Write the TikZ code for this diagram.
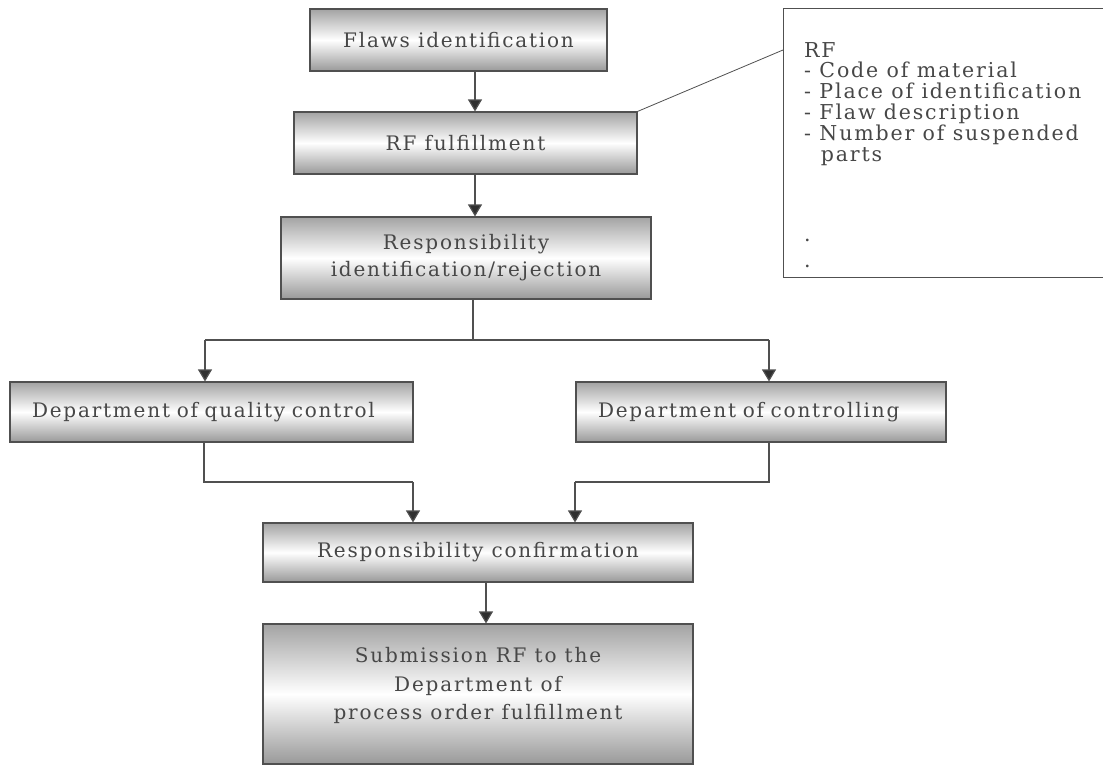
\documentclass[tikz,border=0pt]{standalone}
\usepackage{fontspec}
\setmainfont[LetterSpace=9]{DejaVu Serif}
\usetikzlibrary{arrows.meta,calc}
\definecolor{txt}{HTML}{474747}
\definecolor{ln}{HTML}{505050}
\definecolor{tip}{HTML}{303030}
\tikzset{
  box/.style={draw=ln, line width=1.1pt, shading=axis, top color=black!36, bottom color=black!40, middle color=white,
    inner sep=0pt, text=txt, font=\fontsize{20}{27}\selectfont, align=center},
  deptbox/.style={box, inner xsep=22pt, align=left},
  notebox/.style={draw=ln, line width=1.1pt, fill=white, inner sep=0pt},
  arr/.style={draw=ln, line width=1.2pt, -{Triangle[width=14pt,length=12pt,fill=tip]}},
  conn/.style={draw=ln, line width=1.2pt},
  thin/.style={draw=ln, line width=0.8pt}
}
\begin{document}
\begin{tikzpicture}[x=1pt,y=-1pt]
\useasboundingbox (0,0) rectangle (1103,767);
\fill[white] (0,0) rectangle (1103,767);
% note box (clipped at right)
\begin{scope}
\clip (0,0) rectangle (1103,767);
\node[notebox, minimum width=330, minimum height=269, anchor=north west] (note) at (783,8) {};
\end{scope}
\node[anchor=north west, text=txt, font=\fontsize{20.5}{20.8}\selectfont, align=left, inner sep=0pt] (notetext) at (804,42)
  {RF\\- Code of material\\- Place of identification\\- Flaw description\\- Number of suspended\\\ \ parts\\[60pt].\\[5pt].};

\node[box, minimum width=297, minimum height=62] (flaws) at (458.5,40) {Flaws identification};
\node[box, minimum width=343, minimum height=62] (rf) at (465.5,143) {RF fulfillment};
\node[box, minimum width=370, minimum height=82] (ri) at (466,258) {Responsibility\\identification/rejection};
\node[deptbox, minimum width=403, minimum height=60, text width=359] (qc) at (211.5,412) {Department of quality control};
\node[deptbox, minimum width=370, minimum height=60, text width=326] (dc) at (761,412) {Department of controlling};
\node[box, minimum width=430, minimum height=59] (rc) at (478,552.5) {Responsibility confirmation};
\node[box, minimum width=430, minimum height=140, font=\fontsize{20}{28.5}\selectfont] (sub) at (478,694)
  {Submission RF to the\\Department of\\process order fulfillment\\[-8pt]\mbox{}};

\coordinate (xa) at (475,0);
\coordinate (xb) at (473,340);
\coordinate (xl) at (205,340);
\coordinate (xr) at (769,340);
\coordinate (ql) at (204,482);
\coordinate (qr) at (413,482);
\coordinate (cr) at (769,482);
\coordinate (cl) at (575,482);
\coordinate (xs) at (486,0);
\coordinate (nj) at (783,50);

\draw[arr] (flaws.south -| xa) -- (rf.north -| xa);
\draw[arr] (rf.south -| xa) -- (ri.north -| xa);
\draw[conn] (ri.south -| xb) -- (xb);
\draw[conn] (xl) -- (xr);
\draw[arr] (xl) -- (qc.north -| xl);
\draw[arr] (xr) -- (dc.north -| xr);
\draw[conn] (qc.south -| ql) -- (ql) -- (qr);
\draw[arr] (qr) -- (rc.north -| qr);
\draw[conn] (dc.south -| cr) -- (cr) -- (cl);
\draw[arr] (cl) -- (rc.north -| cl);
\draw[arr] (rc.south -| xs) -- (sub.north -| xs);
\draw[thin] (rf.north east) -- (nj);
\end{tikzpicture}
\end{document}
